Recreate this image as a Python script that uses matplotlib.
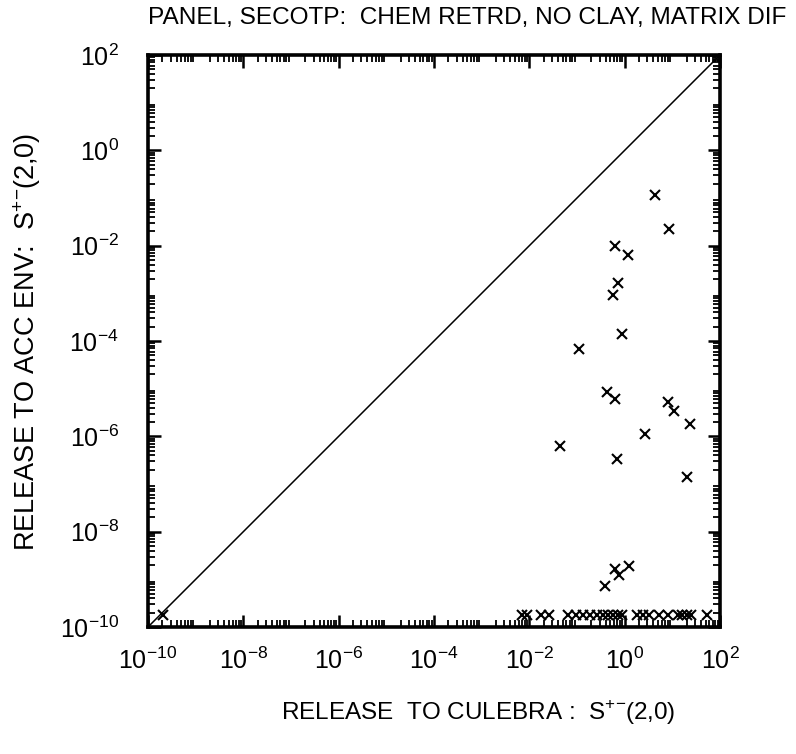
import numpy as np
import matplotlib
matplotlib.use("Agg")
import matplotlib.pyplot as plt
from matplotlib.ticker import LogLocator, NullFormatter, FixedLocator

plt.rcParams['font.family'] = ['Liberation Sans', 'DejaVu Sans']
plt.rcParams['mathtext.fontset'] = 'custom'
plt.rcParams['mathtext.rm'] = 'Liberation Sans'

# scattered points (log10 values)
log_x_pts = [0.64, 0.93, -0.21, 0.08, -0.15, -0.25, -0.06, -0.96,
             -0.37, -0.20, 0.90, 1.03, 1.38, 0.43, -1.35, -0.17, 1.30,
             -0.21, 0.09, -0.12, -0.41, -9.68]
log_y_pts = [-0.94, -1.65, -2.00, -2.20, -2.79, -3.03, -3.85, -4.16,
             -5.06, -5.22, -5.27, -5.46, -5.74, -5.95, -6.20, -6.48, -6.86,
             -8.78, -8.73, -8.90, -9.15, -9.74]
# points sitting at the floor of the plot
log_x_floor = [-2.16, -2.05, -1.76, -1.59, -1.19, -1.03, -0.88, -0.73, -0.59,
               -0.46, -0.36, -0.25, -0.15, -0.06, 0.25, 0.38, 0.50, 0.73,
               0.90, 1.11, 1.20, 1.30, 1.40, 1.72]
floor_log_y = -9.74

diag_x = [1e-10, 1e2]
major_exps = [-10, -8, -6, -4, -2, 0, 2]

fig = plt.figure(figsize=(7.96, 7.54), dpi=100)
ax = fig.add_axes([148/796, 1-627/754, 572/796, 572/754])

ax.plot(diag_x, diag_x, color='black', lw=1.1)
xs = 10.0 ** np.array(log_x_pts + log_x_floor)
ys = 10.0 ** np.array(log_y_pts + [floor_log_y] * len(log_x_floor))
ax.plot(xs, ys, linestyle='none', marker='x', ms=7.5, mew=1.5, color='black')

ax.set_xscale('log')
ax.set_yscale('log')
ax.set_xlim(1e-10, 1e2)
ax.set_ylim(1e-10, 1e2)

for axis in (ax.xaxis, ax.yaxis):
    axis.set_major_locator(FixedLocator([10.0**e for e in major_exps]))
    axis.set_minor_locator(LogLocator(base=10, subs=np.arange(2, 10), numticks=100))
    axis.set_minor_formatter(NullFormatter())
ax.set_xticklabels([r'$10^{%d}$' % e for e in major_exps])
ax.set_yticklabels([r'$10^{%d}$' % e for e in major_exps])

ax.tick_params(which='both', direction='in', top=True, right=True, color='black')
ax.tick_params(which='major', length=9, width=1.8, labelsize=18)
ax.tick_params(axis='x', which='major', pad=15)
ax.tick_params(axis='y', which='major', pad=21)
ax.tick_params(which='minor', length=5, width=1.3)
for s in ax.spines.values():
    s.set_linewidth(2.6)

fig.text(148/796, 1-18/754, 'PANEL, SECOTP:  CHEM RETRD, NO CLAY, MATRIX DIF',
         ha='left', va='center', fontsize=17.6)
fig.text(27/796, 1-342/754, r'RELEASE TO ACC ENV:  S$^{+\!-}\!$(2,0)',
         rotation=90, ha='center', va='center', fontsize=19.5)
fig.text(478/796, 1-713/754, r'RELEASE  TO CULEBRA :  S$^{+\!-}\!$(2,0)',
         ha='center', va='center', fontsize=17.5)

fig.savefig('out.png', dpi=100)
